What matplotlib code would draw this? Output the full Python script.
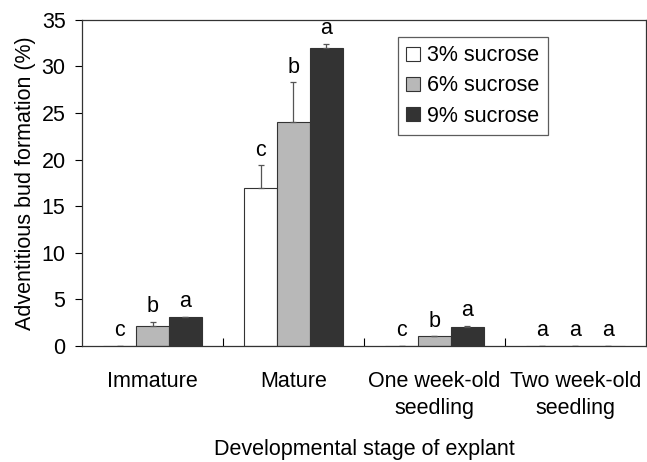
import matplotlib
matplotlib.use("Agg")
import matplotlib.pyplot as plt
import numpy as np

plt.rcParams['font.family'] = ['Liberation Sans', 'DejaVu Sans']

categories = ["Immature", "Mature", "One week-old\nseedling", "Two week-old\nseedling"]
series = ["3% sucrose", "6% sucrose", "9% sucrose"]
vals_3 = [0.0, 17.0, 0.0, 0.0]
vals_6 = [2.15, 24.0, 1.05, 0.0]
vals_9 = [3.1, 32.0, 2.0, 0.0]
err_3 = [0.0, 2.4, 0.0, 0.0]
err_6 = [0.45, 4.3, 0.0, 0.0]
err_9 = [0.0, 0.4, 0.2, 0.0]
letters_3 = ["c", "c", "c", "a"]
letters_6 = ["b", "b", "b", "a"]
letters_9 = ["a", "a", "a", "a"]

colors = ["#ffffff", "#b8b8b8", "#333333"]
values = [vals_3, vals_6, vals_9]
errors = [err_3, err_6, err_9]
letters = [letters_3, letters_6, letters_9]

fig = plt.figure(figsize=(6.47, 4.62), dpi=100)
ax = fig.add_axes([0.127, 0.251, 0.871, 0.706])

x = np.arange(len(categories))
w = 0.233
fs = 15.5
for i in range(3):
    pos = x + (i - 1) * w
    yerr = np.array([np.zeros(len(categories)), errors[i]])
    ax.bar(pos, values[i], w, color=colors[i], edgecolor="#333333", linewidth=0.8,
           label=series[i], yerr=yerr, error_kw=dict(ecolor="#555555", elinewidth=0.9, capsize=2.5, capthick=0.9))
    for j in range(len(categories)):
        top = values[i][j] + errors[i][j]
        ax.text(pos[j], top + 0.5, letters[i][j], ha="center", va="bottom", fontsize=fs)

ax.set_xlim(-0.5, len(categories) - 0.5)
ax.set_ylim(0, 35)
ax.set_yticks(np.arange(0, 36, 5))
ax.set_xticks(x)
ax.set_xticklabels(categories, fontsize=fs, linespacing=1.4)
ax.set_xticks(np.arange(0.5, len(categories) - 0.5, 1), minor=True)
ax.tick_params(axis="x", which="major", length=0, pad=18)
ax.tick_params(axis="x", which="minor", direction="in", length=6, width=0.8)
ax.tick_params(axis="y", direction="out", length=5, width=0.8, labelsize=fs, pad=7)
for s in ax.spines.values():
    s.set_linewidth(0.9)
    s.set_color("#333333")

ax.set_ylabel("Adventitious bud formation (%)", fontsize=fs, labelpad=4)
ax.set_xlabel("Developmental stage of explant", fontsize=fs, labelpad=14)

leg = ax.legend(loc="upper left", bbox_to_anchor=(0.56, 0.948), fontsize=fs, frameon=True,
                fancybox=False, edgecolor="#333333", handlelength=0.65, handleheight=0.65,
                handletextpad=0.3, borderpad=0.4, labelspacing=0.42, borderaxespad=0)
leg.get_frame().set_linewidth(0.9)

fig.savefig("out.png", dpi=100)
